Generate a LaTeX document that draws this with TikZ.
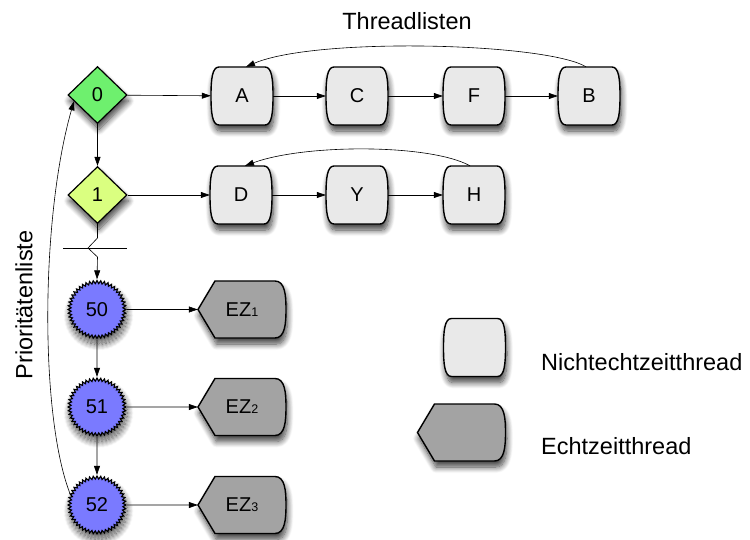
\documentclass[tikz,border=0pt]{standalone}
\usepackage{fontspec}
\setmainfont{Liberation Sans}
\usetikzlibrary{shapes.geometric,arrows.meta,shadows.blur}

\definecolor{prioA}{RGB}{110,240,110}
\definecolor{prioB}{RGB}{218,255,128}
\definecolor{rtprio}{RGB}{122,122,255}
\definecolor{thrfill}{RGB}{233,233,233}
\definecolor{ezfill}{RGB}{163,163,163}

\tikzset{
  softshadow/.style={blur shadow={shadow xshift=1.5pt,shadow yshift=-6pt,
      shadow blur radius=6pt,shadow blur steps=10,shadow opacity=75}},
  arr/.style={-{Triangle[length=9pt,width=6pt]},line width=0.6pt},
  lbl/.style={font=\fontsize{20}{22}\selectfont,inner sep=0pt},
  big/.style={font=\fontsize{23.5}{26}\selectfont,inner sep=0pt},
  prio/.style={diamond,draw,line width=1.2pt,minimum width=59pt,minimum height=57pt,
      inner sep=0pt,lbl,softshadow},
  rt/.style={star,star points=48,star point ratio=1.12,draw,line width=1.1pt,
      fill=rtprio,minimum size=58pt,inner sep=0pt,lbl,softshadow},
  thrnode/.style={rectangle,minimum width=62pt,minimum height=58pt,inner sep=0pt,lbl},
  eznode/.style={rectangle,minimum width=88pt,minimum height=57pt,inner sep=0pt,lbl},
  thrshape/.style={draw,line width=1.4pt,fill=thrfill,softshadow},
  ezshape/.style={draw,line width=1.4pt,fill=ezfill,softshadow},
}

% thread box: flat top and bottom, bulging sides
\newcommand\thrbox[3]{%
  \begin{scope}[shift={(#2)}]
    \path[thrshape] (-23,-29) -- (23,-29)
      .. controls (30,-29) and (31,-16) .. (31,0)
      .. controls (31,16) and (30,29) .. (23,29) -- (-23,29)
      .. controls (-30,29) and (-31,16) .. (-31,0)
      .. controls (-31,-16) and (-30,-29) .. (-23,-29) -- cycle;
  \end{scope}
  \node[thrnode] (#1) at (#2) {#3};
}
% real-time thread: pointed left end, rounded right end
\newcommand\ezbox[3]{%
  \begin{scope}[shift={(#2)}]
    \path[ezshape] (-44,0) -- (-27,-28.5) -- (33,-28.5)
      .. controls (43,-28.5) and (44,-14) .. (44,0)
      .. controls (44,14) and (43,28.5) .. (33,28.5)
      -- (-27,28.5) -- cycle;
  \end{scope}
  \node[eznode] (#1) at (#2) {#3};
}
\newcommand\ezlabel[1]{EZ{\fontsize{12.5}{12.5}\selectfont #1}}

\begin{document}
\begin{tikzpicture}[x=1pt,y=-1pt]
  \useasboundingbox (0,0) rectangle (750,540);

  % priority list
  \node[prio,fill=prioA] (p0) at (97.5,95) {0};
  \node[prio,fill=prioB] (p1) at (97.5,195) {1};
  \node[rt] (p50) at (97,309.5) {50};
  \node[rt] (p51) at (97,407) {51};
  \node[rt] (p52) at (97,505) {52};

  % thread lists
  \thrbox{A}{242,96}{A}
  \thrbox{C}{357,96}{C}
  \thrbox{F}{474,96}{F}
  \thrbox{B}{589,96}{B}
  \thrbox{D}{241,195}{D}
  \thrbox{Y}{357,195}{Y}
  \thrbox{H}{474,195}{H}

  % real-time threads
  \ezbox{E1}{242,309.5}{\ezlabel{1}}
  \ezbox{E2}{242,407}{\ezlabel{2}}
  \ezbox{E3}{242,505}{\ezlabel{3}}

  % legend
  \thrbox{LT}{474.5,347.5}{}
  \ezbox{LE}{461.5,432.5}{}
  \node[big,anchor=west] (tLT) at (541,362) {Nichtechtzeitthread};
  \node[big,anchor=west] (tLE) at (541,446) {Echtzeitthread};

  \node[big] (title) at (407,21) {Threadlisten};
  \node[big,rotate=90] (plist) at (24,305) {Prioritätenliste};

  % links between list entries
  \draw[arr] (p0) -- (A);
  \draw[arr] (A) -- (C);
  \draw[arr] (C) -- (F);
  \draw[arr] (F) -- (B);
  \draw[arr] (p1) -- (D);
  \draw[arr] (D) -- (Y);
  \draw[arr] (Y) -- (H);
  \draw[arr] ([xshift=-3pt]B.north) .. controls +(-40,-24) and +(70,-30) .. ([xshift=4pt]A.north);
  \draw[arr] ([xshift=-4pt]H.north) .. controls +(-40,-22) and +(60,-22) .. ([xshift=4pt]D.north);

  \draw[arr] (p0) -- (p1);
  \draw[arr] (p50) -- (p51);
  \draw[arr] (p51) -- (p52);
  \draw[arr] (p50) -- (E1);
  \draw[arr] (p51) -- (E2);
  \draw[arr] (p52) -- (E3);

  % elided part of the priority list
  \coordinate (brk) at (88,248);
  \draw[line width=0.7pt] (63,248) -- (127,248);
  \draw[arr] (p1.south) -- (97.5,238) -- (brk) -- (97.5,257) -- (p50.north);

  % wrap-around from the last priority to the first
  \draw[arr] (p52.160) .. controls (40,420) and (40,220) .. (p0.195);
\end{tikzpicture}
\end{document}
